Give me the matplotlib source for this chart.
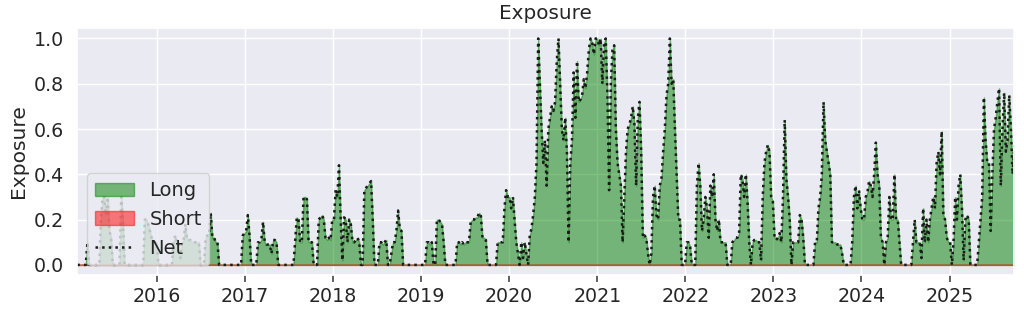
import pandas as pd
import matplotlib
matplotlib.use("Agg")
import matplotlib.pyplot as plt
import matplotlib.dates as mdates
import seaborn as sns

# weekly long exposure (Fridays)
long_2015 = [0, 0, 0, 0, 0, 0, 0.1, 0, 0, 0, 0, 0, 0, 0,
             0.2, 0.3, 0.3, 0.22, 0.3, 0.15, 0.12, 0, 0, 0, 0, 0, 0.3, 0.2,
             0, 0, 0, 0, 0, 0, 0, 0, 0, 0, 0, 0,
             0.2, 0.2, 0.18, 0.15, 0.12, 0.1, 0.1]
long_2016 = [0.1, 0, 0, 0, 0, 0, 0, 0, 0, 0,
             0.1, 0.13, 0.1, 0.1, 0.03, 0.1, 0.11, 0.18, 0.11, 0.11, 0.11, 0.1, 0.1, 0.1, 0.1, 0.1,
             0, 0, 0, 0.12, 0.13, 0.13, 0.23, 0.12, 0.12, 0.1, 0.1,
             0, 0, 0, 0, 0, 0, 0, 0, 0, 0, 0, 0, 0, 0, 0.13, 0.14]
long_2017 = [0.15, 0.22, 0.13, 0, 0, 0, 0,
             0.1, 0.1, 0.11, 0.19, 0.1, 0.09, 0.09, 0.09, 0.05, 0.11, 0.11, 0.1,
             0, 0, 0, 0, 0, 0, 0, 0, 0, 0,
             0.1, 0.21, 0.2, 0.1, 0.1, 0.3, 0.3, 0.29, 0.1, 0.1, 0.1, 0, 0, 0,
             0.2, 0.21, 0.22, 0.2, 0.12, 0.11, 0.12, 0.11, 0.2]
long_2018 = [0.2, 0.33, 0.3, 0.44, 0.2, 0.02, 0.21, 0.2, 0.1, 0.2, 0.18, 0.1, 0.1, 0.11, 0.12, 0.1,
             0, 0, 0.33, 0.34, 0.35, 0.36, 0.37, 0.2, 0, 0, 0,
             0.1, 0.1, 0.09, 0.1, 0.11, 0, 0, 0.05, 0.1, 0.1, 0.15, 0.24, 0.16, 0.15,
             0, 0, 0, 0, 0, 0, 0, 0, 0, 0, 0]
long_2019 = [0, 0, 0, 0.1, 0.1, 0.09, 0.1, 0, 0, 0.2, 0.2, 0.19, 0.18, 0.1,
             0, 0, 0, 0, 0, 0, 0, 0.1, 0.1, 0.09, 0.1, 0.09, 0.1, 0.1, 0.1,
             0.19, 0.2, 0.2, 0.21, 0.21, 0.23, 0.22, 0.12, 0.12, 0.11,
             0, 0, 0, 0, 0, 0, 0.1, 0.1, 0.1, 0.1, 0.25, 0.33, 0.3]
long_2020 = [0.3, 0.25, 0.3, 0.2, 0.1, 0.05, 0, 0.1, 0.03, 0.1, 0.05, 0, 0.13, 0.16, 0.22,
             0.3, 0.45, 1.0, 0.8, 0.6, 0.45, 0.55, 0.35, 0.6, 0.65, 0.7, 0.68, 0.72, 0.9, 1.0,
             0.8, 0.6, 0.55, 0.65, 0.5, 0.1, 0.45, 0.55, 0.85, 0.65, 0.9, 0.72, 0.73, 0.75,
             0.82, 0.78, 0.85, 0.95, 1.0, 0.98, 0.93, 1.0]
long_2021 = [1.0, 0.97, 1.0, 0.8, 0.98, 1.0, 0.75, 0.33, 0.8, 0.95, 0.97, 0.6, 0.45, 0.4, 0.35,
             0.1, 0.3, 0.5, 0.6, 0.62, 0.65, 0.7, 0.62, 0.35, 0.65, 0.72, 0.5, 0.12, 0.13, 0.12,
             0.05, 0.0, 0.05, 0.3, 0.35, 0.22, 0.2, 0.35, 0.38, 0.5, 0.6, 0.75, 0.8, 1.0, 0.8,
             0.82, 0.6, 0.4, 0.2, 0.2, 0, 0, 0]
long_2022 = [0.1, 0.1, 0.08, 0, 0, 0, 0.35, 0.45, 0.35, 0.15, 0.2, 0.3, 0.25, 0.12, 0.35,
             0.3, 0.4, 0.2, 0.15, 0.2, 0.1, 0.1, 0.1, 0.1, 0, 0, 0, 0.1, 0.11, 0.12,
             0.12, 0.14, 0.4, 0.38, 0.3, 0.4, 0.28, 0.1, 0, 0.1, 0.11, 0.11, 0.1, 0.1, 0.02,
             0.3, 0.45, 0.5, 0.53, 0.5, 0.3, 0.28]
long_2023 = [0.12, 0.11, 0.12, 0.14, 0.1, 0.3, 0.64, 0.38, 0.3, 0.2, 0, 0.1, 0.1, 0.1, 0.1,
             0.22, 0.2, 0.12, 0, 0, 0, 0, 0, 0, 0.1, 0.1, 0.25, 0.3, 0.4, 0.72,
             0.55, 0.5, 0.45, 0.4, 0.1, 0.1, 0.1, 0.09, 0.09, 0.09, 0.05, 0, 0, 0, 0,
             0, 0.1, 0.3, 0.35, 0.25, 0.33, 0.25]
long_2024 = [0.2, 0.2, 0.3, 0.32, 0.37, 0.35, 0.3, 0.4, 0.54, 0.4, 0.35, 0.12, 0.1, 0, 0.1,
             0.12, 0.3, 0.2, 0.2, 0.4, 0.2, 0.2, 0.1, 0, 0, 0, 0, 0, 0, 0,
             0.1, 0.2, 0.1, 0.1, 0.1, 0.03, 0.25, 0.1, 0.2, 0.1, 0.2, 0.25, 0.3, 0.25, 0.45,
             0.5, 0.4, 0.59, 0.22, 0.2, 0.12, 0.1]
long_2025 = [0.1, 0, 0.1, 0.3, 0.2, 0.35, 0.4, 0.25, 0.02, 0.2, 0.22, 0.2, 0, 0, 0,
             0, 0, 0.1, 0.2, 0.3, 0.74, 0.55, 0.45, 0.45, 0.15, 0.4, 0.6, 0.65, 0.72, 0.78,
             0.35, 0.6, 0.76, 0.5, 0.55, 0.75, 0.6, 0.4, 0.53]

long_exposure = (long_2015 + long_2016 + long_2017 + long_2018 + long_2019 + long_2020
                 + long_2021 + long_2022 + long_2023 + long_2024 + long_2025)
dates = pd.date_range("2015-02-06", periods=len(long_exposure), freq="W-FRI")
short_exposure = [0.0] * len(long_exposure)  # never short in this period

df = pd.DataFrame({"long": long_exposure, "short": short_exposure}, index=dates)
df["net"] = df["long"] - df["short"]

sns.set_theme(style="darkgrid", font_scale=1.2)
plt.rcParams.update({"xtick.labelsize": 13.7, "ytick.labelsize": 13.7,
                     "legend.fontsize": 14, "axes.titlesize": 14.4,
                     "axes.labelsize": 14.6})

fig, ax = plt.subplots(figsize=(10.24, 3.14), dpi=100)
fig.subplots_adjust(left=0.0755, right=0.9905, bottom=0.124, top=0.912)

ax.fill_between(df.index, 0, df["long"], color="green", alpha=0.5, label="Long")
ax.fill_between(df.index, 0, -df["short"], color="red", alpha=0.5, label="Short")
ax.plot(df.index, df["net"], "k:", lw=1.8, label="Net")

ax.set_title("Exposure")
ax.set_ylabel("Exposure")
ax.set_xlim(df.index[0], df.index[-1])
ax.set_ylim(-0.045, 1.048)
ax.xaxis.set_major_locator(mdates.YearLocator())
ax.xaxis.set_major_formatter(mdates.DateFormatter("%Y"))
ax.tick_params(axis="x", bottom=True, length=5, color="0.3")
ax.legend(loc="lower left")

fig.savefig("out.png")
